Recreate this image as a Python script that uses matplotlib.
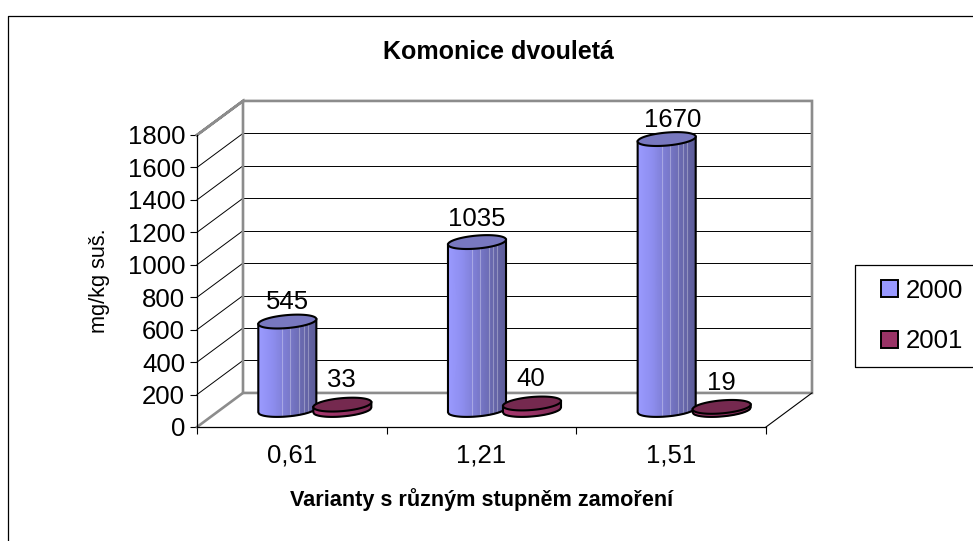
import numpy as np
import matplotlib
matplotlib.use('Agg')
import matplotlib.pyplot as plt
from matplotlib.colors import LinearSegmentedColormap
from matplotlib.patches import Patch
from matplotlib.lines import Line2D

categories = ['0,61', '1,21', '1,51']
years = ['2000', '2001']
values_2000 = [545, 1035, 1670]
values_2001 = [33, 40, 19]
y_ticks = [0, 200, 400, 600, 800, 1000, 1200, 1400, 1600, 1800]

title = 'Komonice dvouletá'
xlabel = 'Varianty s různým stupněm zamoření'
ylabel = 'mg/kg suš.'

plt.rcParams['font.family'] = ['Liberation Sans', 'DejaVu Sans']

# depth of the fake 3d box, in data units
DEPTH_X = 0.2425
DEPTH_Y = 210
BAR_W = 0.306
BAR_OFF = 0.145
RY = 40
TILT = 15
FS = 18.5

W, H = 973, 541
fig = plt.figure(figsize=(W / 100, H / 100), dpi=100)
ax = fig.add_axes([197 / W, (H - 427) / H, 569 / W, 292 / H])
ax.set_xlim(0, 3)
ax.set_ylim(0, 1800)
ax.patch.set_visible(False)

# outer chart border (only left and top are inside the picture)
fig.add_artist(Line2D([7.5 / W, 7.5 / W, 1], [0, (H - 15.5) / H, (H - 15.5) / H],
                      color='black', lw=0.9, transform=fig.transFigure))

GRAY = '#8c8c8c'
for v in y_ticks:
    c, lw = ('black', 0.7)
    if 0 < v < 1800:
        ax.plot([DEPTH_X, 3 + DEPTH_X], [v + DEPTH_Y] * 2, color=c, lw=lw, clip_on=False, zorder=1)
        ax.plot([0, DEPTH_X], [v, v + DEPTH_Y], color=c, lw=lw, clip_on=False, zorder=1)
# gray box edges
ax.plot([0, DEPTH_X, 3 + DEPTH_X, 3 + DEPTH_X, DEPTH_X, DEPTH_X, 0],
        [1800, 1800 + DEPTH_Y, 1800 + DEPTH_Y, DEPTH_Y, DEPTH_Y, 1800 + DEPTH_Y, 1800],
        color=GRAY, lw=1.9, clip_on=False, zorder=2, solid_joinstyle='miter')
ax.plot([0, DEPTH_X], [0, DEPTH_Y], color=GRAY, lw=1.9, clip_on=False, zorder=2)
ax.plot([3, 3 + DEPTH_X], [0, DEPTH_Y], color='black', lw=0.8, clip_on=False, zorder=2)


def cylinder(cx, base, val, body_cm, top_color, z, streaks=()):
    # outline and shading of one cylinder, everything in data units
    rx = BAR_W / 2
    u = np.linspace(-1, 1, 61)
    arc = RY * np.sqrt(1 - u ** 2)
    xs = cx + rx * u
    low = base + TILT * u - arc
    top = base + val + TILT * u
    X = np.vstack([xs, xs])
    Y = np.vstack([low, top])
    C = np.vstack([u, u])
    ax.pcolormesh(X, Y, C, cmap=body_cm, vmin=-1, vmax=1, shading='gouraud', clip_on=False, zorder=z)
    for s in streaks:
        i = np.argmin(np.abs(u - s))
        ax.plot([xs[i], xs[i]], [low[i], top[i]], color='white', alpha=0.3, lw=0.8, clip_on=False, zorder=z)
    # sides and front bottom arc
    ax.plot(np.r_[xs[0], xs, xs[-1]], np.r_[top[0], low, top[-1]], color='black', lw=1.5,
            clip_on=False, zorder=z)
    # top ellipse
    t = np.linspace(0, 2 * np.pi, 121)
    ex = cx + rx * np.cos(t)
    ey = base + val + TILT * np.cos(t) + RY * np.sin(t)
    ax.fill(ex, ey, facecolor=top_color, edgecolor='black', lw=1.5, clip_on=False, zorder=z)


blue_cm = LinearSegmentedColormap.from_list('b', ['#9b9bff', '#8e8ef0', '#7c7cd0', '#6a6ab0', '#5c5c98'])
red_cm = LinearSegmentedColormap.from_list('r', ['#a8386f', '#993366', '#7a2952'])
STREAKS = [-0.15, 0.1, 0.4, 0.55, 0.7]

for i in range(3):
    base_x = i + 0.5 + DEPTH_X / 2
    for j, vals in enumerate([values_2000, values_2001]):
        cx = base_x + (-BAR_OFF if j == 0 else BAR_OFF)
        if j == 0:
            cylinder(cx, DEPTH_Y / 2, vals[i], blue_cm, '#7878bf', 4 + j, STREAKS)
            label_x, label_up = (cx + 0.03 if i == 2 else cx), (142 if i == 1 else 120)
        else:
            cylinder(cx, DEPTH_Y / 2, vals[i], red_cm, '#75294f', 4 + j)
            label_x, label_up = (cx if i == 2 else cx - 0.005), 150
        ax.text(label_x, DEPTH_Y / 2 + vals[i] + label_up, str(vals[i]), ha='center', va='center',
                fontsize=FS, color='black', clip_on=False, zorder=6)

# axes, ticks
for s in ['top', 'right']:
    ax.spines[s].set_visible(False)
for s in ['left', 'bottom']:
    ax.spines[s].set_linewidth(0.9)
ax.set_yticks(y_ticks)
ax.set_yticklabels([str(v) for v in y_ticks], fontsize=FS)
ax.set_xticks([0, 1, 2, 3])
ax.set_xticklabels([])
ax.set_xticks([0.5, 1.5, 2.5], minor=True)
ax.set_xticklabels(categories, minor=True, fontsize=FS)
ax.tick_params(axis='y', length=5, width=0.8, pad=3.5)
ax.tick_params(axis='x', which='major', length=5, width=0.8)
ax.tick_params(axis='x', which='minor', length=0, pad=12)

ax.set_ylabel(ylabel, fontsize=15.7, labelpad=12.5)
ax.set_xlabel(xlabel, fontsize=15.6, fontweight='bold', labelpad=14.5, x=0.5)
ax.set_title(title, fontsize=18, fontweight='bold', x=0.529, pad=55)

# legend box runs off the right edge
fig.add_artist(Line2D([1, 854.5 / W, 854.5 / W, 1],
                      [(H - 265) / H, (H - 265) / H, (H - 367) / H, (H - 367) / H],
                      color='black', lw=0.9, transform=fig.transFigure))
handles = [Patch(facecolor='#9999ff', edgecolor='black', lw=1.4),
           Patch(facecolor='#993366', edgecolor='black', lw=1.4)]
fig.legend(handles, years, loc='center left', bbox_to_anchor=(881 / W, (H - 316) / H), frameon=False,
           fontsize=FS, handlelength=0.66, handleheight=0.66, handletextpad=0.3, labelspacing=1.05,
           borderpad=0, borderaxespad=0)

fig.savefig('out.png', dpi=100)
